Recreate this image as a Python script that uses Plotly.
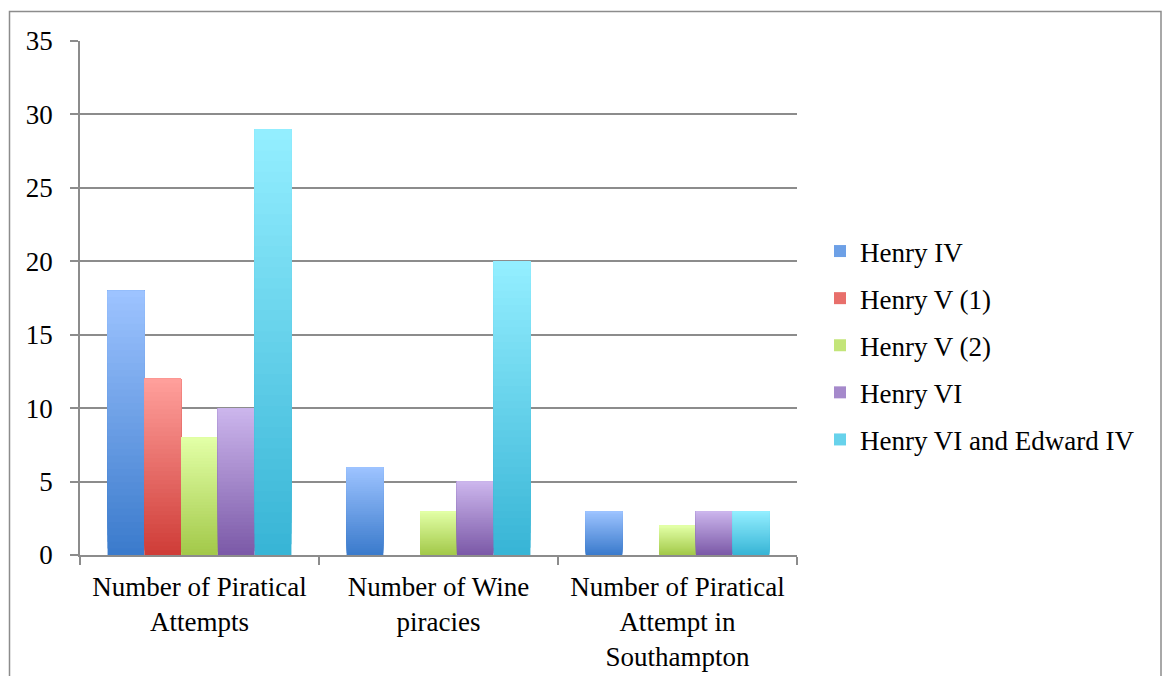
import plotly.graph_objects as go

categories = ["Number of Piratical<br>Attempts",
              "Number of Wine<br>piracies",
              "Number of Piratical<br>Attempt in<br>Southampton"]
series_names = ["Henry IV", "Henry V (1)", "Henry V (2)", "Henry VI", "Henry VI and Edward IV"]
henry_iv = [18, 6, 3]
henry_v1 = [12, 0, 0]
henry_v2 = [8, 3, 2]
henry_vi = [10, 5, 3]
henry_vi_edward_iv = [29, 20, 3]
y_ticks = [0, 5, 10, 15, 20, 25, 30, 35]

series_values = [henry_iv, henry_v1, henry_v2, henry_vi, henry_vi_edward_iv]
# (top colour, bottom colour) of the vertical gradient
gradients = [("#9DC3FF", "#3B7BCC"),
             ("#FF9F9B", "#CF3D38"),
             ("#E2FFA6", "#A3C94A"),
             ("#CBB5EC", "#7C5AA8"),
             ("#93EEFF", "#38B5D6")]

FONT = "Liberation Serif"
GRID = "#8c8c8c"
N = 40


def hex2rgb(h):
    h = h.lstrip("#")
    return [int(h[i:i + 2], 16) for i in (0, 2, 4)]


def mix(c_bottom, c_top, t):
    a, b = hex2rgb(c_bottom), hex2rgb(c_top)
    return "rgb(%d,%d,%d)" % tuple(round(a[i] + (b[i] - a[i]) * t) for i in range(3))


fig = go.Figure()
for name, vals, (top, bottom) in zip(series_names, series_values, gradients):
    for k in range(N):
        frac = k / N
        fig.add_trace(go.Bar(
            x=categories,
            y=[v * (1 - frac) for v in vals],
            base=[v * frac for v in vals],
            name=name,
            offsetgroup=name,
            legendgroup=name,
            showlegend=(k == N // 2),
            marker=dict(color=mix(bottom, top, k / (N - 1)), line=dict(width=0)),
            hoverinfo="skip",
        ))

fig.update_layout(
    width=1162, height=676,
    margin=dict(l=80, r=365, t=41, b=121),
    paper_bgcolor="white", plot_bgcolor="white",
    barmode="group", bargap=0.2308, bargroupgap=0,
    font=dict(family=FONT, size=27, color="black"),
    showlegend=True,
    legend=dict(xref="container", yref="container", x=820 / 1162, y=1 - 227 / 676,
                xanchor="left", yanchor="top", font=dict(family=FONT, size=27),
                tracegroupgap=9, traceorder="grouped", bgcolor="rgba(0,0,0,0)"),
    shapes=[dict(type="rect", xref="paper", yref="paper",
                 x0=(9.5 - 80) / 717, x1=(1161 - 80) / 717,
                 y0=-0.3, y1=1 + (41 - 11.5) / 514,
                 line=dict(color="#8c8c8c", width=1.5), layer="below")],
)
fig.update_yaxes(range=[0, 35], tickvals=y_ticks, showgrid=True, gridcolor=GRID, gridwidth=1.5,
                 showline=True, linecolor=GRID, linewidth=1.5, ticks="outside", ticklen=8,
                 tickcolor=GRID, tickwidth=1.5, zeroline=False, ticklabelstandoff=12,
                 automargin=False, tickfont=dict(family=FONT, size=27))
fig.update_xaxes(showgrid=False, showline=True, linecolor=GRID, linewidth=1.5, ticks="outside",
                 tickson="boundaries", ticklen=8, tickcolor=GRID, tickwidth=1.5,
                 ticklabelstandoff=7, automargin=False,
                 tickfont=dict(family=FONT, size=27), tickangle=0)

fig.write_html("out.html")
